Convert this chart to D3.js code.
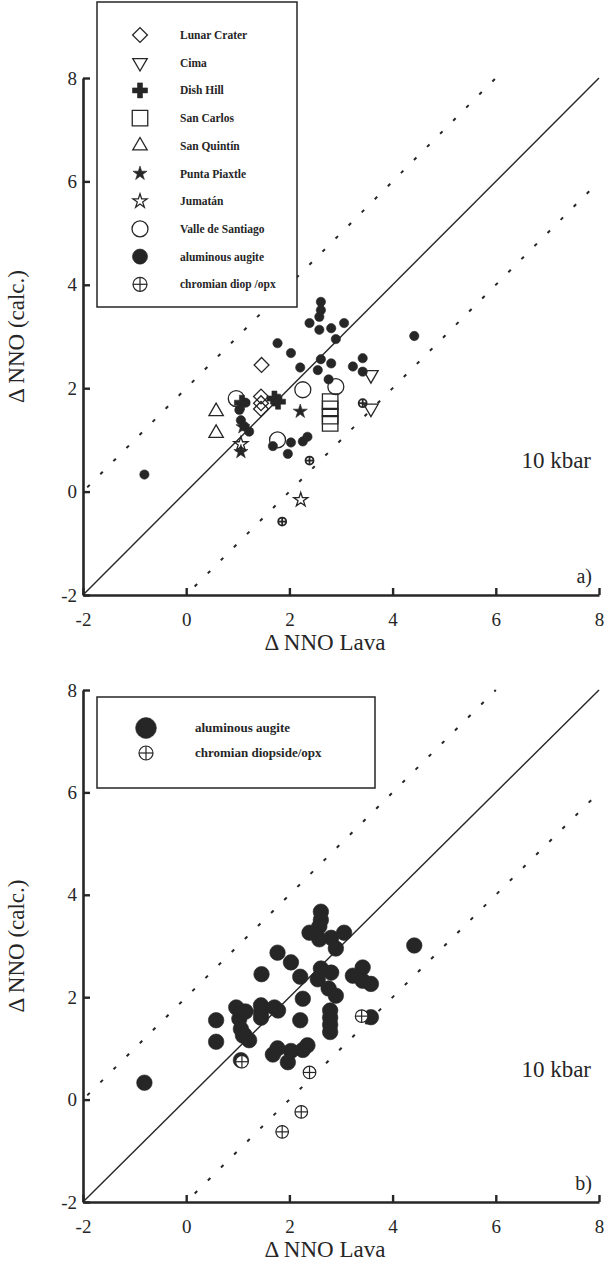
<!DOCTYPE html>
<html>
<head>
<meta charset="utf-8">
<script src="https://cdn.jsdelivr.net/npm/d3@7"></script>
<style>
    body { margin: 0; background: #fff; }
</style>
</head>
<body>
<svg id="chart" width="605" height="1263"></svg>
<script>

// ---- data (delta NNO lava, delta NNO calc.) ----
const lunarCrater   = [[1.46, 2.45], [1.45, 1.84], [1.45, 1.71], [1.45, 1.60]];
const cima          = [[3.58, 2.26], [3.58, 1.61]];
const dishHill      = [[1.71, 1.80], [1.78, 1.74], [1.08, 1.72]];
const sanCarlos     = [[2.79, 1.74], [2.79, 1.60], [2.79, 1.46], [2.79, 1.32]];
const sanQuintin    = [[0.58, 1.55], [0.58, 1.13]];
const puntaPiaxtle  = [[2.21, 1.55], [1.06, 0.77], [1.10, 1.25]];
const jumatan       = [[2.22, -0.16], [1.06, 0.92]];
const valleSantiago = [[0.97, 1.80], [2.26, 1.97], [2.90, 2.03], [1.77, 1.00]];
const augite = [
    [2.61, 3.67], [2.61, 3.51], [2.58, 3.38], [2.39, 3.26], [2.58, 3.13], [2.81, 3.16],
    [3.06, 3.26], [2.90, 2.95], [4.42, 3.01], [1.77, 2.87], [2.03, 2.68], [2.61, 2.56],
    [2.81, 2.48], [2.55, 2.35], [2.21, 2.40], [3.42, 2.58], [3.23, 2.42], [3.42, 2.32],
    [2.76, 2.17], [-0.81, 0.33], [2.03, 0.95], [2.26, 0.97], [2.35, 1.06], [1.68, 0.88],
    [1.97, 0.73], [1.03, 1.58], [1.06, 1.38], [1.13, 1.26], [1.22, 1.16], [1.15, 1.72]
];
const chromianA = [[3.42, 1.71], [1.86, -0.58], [2.39, 0.60]];
const chromianB = [[1.08, 0.74], [2.39, 0.53], [2.23, -0.24], [1.86, -0.63], [3.40, 1.63]];

const ticks = [-2, 0, 2, 4, 6, 8];
const legendNamesA = ["Lunar Crater", "Cima", "Dish Hill", "San Carlos", "San Quintín",
    "Punta Piaxtle", "Jumatán", "Valle de Santiago", "aluminous augite", "chromian diop /opx"];
const legendNamesB = ["aluminous augite", "chromian diopside/opx"];

const ink = "#262626";
const serif = "'Liberation Serif', 'Times New Roman', 'DejaVu Serif', serif";
const svg = d3.select("#chart").attr("font-family", serif);

// marker styles, keyed by symbol
const markers = {
    diamond:  { type: d3.symbolSquare,   size: 110, rotate: 45,  fill: false },
    triDown:  { type: d3.symbolTriangle, size: 90,  rotate: 180, fill: false },
    cross:    { type: d3.symbolCross,    size: 125, rotate: 0,   fill: true },
    square:   { type: d3.symbolSquare,   size: 240, rotate: 0,   fill: false },
    triUp:    { type: d3.symbolTriangle, size: 90,  rotate: 0,   fill: false },
    starFill: { type: d3.symbolStar,     size: 62,  rotate: 0,   fill: true },
    starOpen: { type: d3.symbolStar,     size: 62,  rotate: 0,   fill: false },
    ring:     { type: d3.symbolCircle,   size: 200, rotate: 0,   fill: false },
    dot:      { type: d3.symbolCircle,   size: 68,  rotate: 0,   fill: true }
};

function drawMarker(g, key, cx, cy, sizeOverride, lw) {
    if (key == "oplus") {
        let r = sizeOverride || 5;
        let w = lw || 1.2;
        let m = g.append("g").attr("transform", "translate(" + cx + "," + cy + ")");
        m.append("circle").attr("r", r).attr("fill", "#fff").attr("stroke", ink).attr("stroke-width", w);
        m.append("line").attr("x1", -r).attr("x2", r).attr("stroke", ink).attr("stroke-width", w);
        m.append("line").attr("y1", -r).attr("y2", r).attr("stroke", ink).attr("stroke-width", w);
        return;
    }
    let s = markers[key];
    g.append("path")
        .attr("d", d3.symbol().type(s.type).size(sizeOverride || s.size)())
        .attr("transform", "translate(" + cx + "," + cy + ") rotate(" + s.rotate + ")")
        .attr("fill", s.fill ? ink : "none")
        .attr("stroke", ink)
        .attr("stroke-width", s.fill ? 0.6 : 1.3);
}

/** draws axes, reference lines and labels of one panel; returns the scales */
function drawFrame(top, bottom, tag) {
    let x = d3.scaleLinear().domain([-2, 8]).range([83, 599]);
    let y = d3.scaleLinear().domain([-2, 8]).range([bottom, top]);
    let g = svg.append("g");

    // 1:1 line and +-2 log unit envelopes
    g.append("line")
        .attr("x1", x(-2)).attr("y1", y(-2)).attr("x2", x(8)).attr("y2", y(8))
        .attr("stroke", ink).attr("stroke-width", 1.4);
    g.append("line")
        .attr("x1", x(-2)).attr("y1", y(0)).attr("x2", x(6)).attr("y2", y(8))
        .attr("stroke", ink).attr("stroke-width", 2).attr("stroke-dasharray", "3.5,15")
        .attr("stroke-dashoffset", -6);
    g.append("line")
        .attr("x1", x(0)).attr("y1", y(-2)).attr("x2", x(8)).attr("y2", y(6))
        .attr("stroke", ink).attr("stroke-width", 2).attr("stroke-dasharray", "3.5,15")
        .attr("stroke-dashoffset", -12);

    let xAxis = d3.axisBottom(x).tickValues(ticks).tickFormat(function (d) { return "" + d; })
        .tickSize(-7).tickSizeOuter(0).tickPadding(18);
    let yAxis = d3.axisLeft(y).tickValues(ticks).tickFormat(function (d) { return "" + d; })
        .tickSize(-7).tickSizeOuter(0).tickPadding(6);

    let gx = g.append("g").attr("transform", "translate(0," + bottom + ")").call(xAxis);
    let gy = g.append("g").attr("transform", "translate(83,0)").call(yAxis);
    [gx, gy].forEach(function (a) {
        a.attr("font-family", serif).attr("font-size", 19);
        a.select(".domain").attr("stroke", ink).attr("stroke-width", 2.6);
        a.selectAll(".tick line").attr("stroke", ink).attr("stroke-width", 2.4);
        a.selectAll(".tick text").attr("fill", ink);
    });

    g.append("text")
        .attr("x", 325).attr("y", bottom + 55)
        .attr("text-anchor", "middle").attr("font-size", 23).attr("fill", ink)
        .text("Δ NNO Lava");
    g.append("text")
        .attr("transform", "translate(24," + ((top + bottom) / 2) + ") rotate(-90)")
        .attr("text-anchor", "middle").attr("font-size", 23).attr("fill", ink)
        .text("Δ NNO (calc.)");
    g.append("text")
        .attr("x", 591).attr("y", y(0.45))
        .attr("text-anchor", "end").attr("font-size", 23).attr("fill", ink)
        .text("10 kbar");
    g.append("text")
        .attr("x", 592).attr("y", bottom - 12)
        .attr("text-anchor", "end").attr("font-size", 20).attr("fill", ink)
        .text(tag);

    return { x: x, y: y, g: g };
}

// ---------- panel a ----------
let pa = drawFrame(78, 595, "a)");
let seriesA = [
    { data: augite, key: "dot" },
    { data: chromianA, key: "oplus", size: 4, lw: 1.8 },
    { data: sanCarlos, key: "square" },
    { data: lunarCrater, key: "diamond" },
    { data: cima, key: "triDown" },
    { data: sanQuintin, key: "triUp" },
    { data: valleSantiago, key: "ring" },
    { data: jumatan, key: "starOpen" },
    { data: puntaPiaxtle, key: "starFill" },
    { data: dishHill, key: "cross" }
];
seriesA.forEach(function (s) {
    s.data.forEach(function (d) {
        drawMarker(pa.g, s.key, pa.x(d[0]), pa.y(d[1]), s.size, s.lw);
    });
});

// legend a
let legA = svg.append("g");
legA.append("rect")
    .attr("x", 97).attr("y", 2).attr("width", 200).attr("height", 305)
    .attr("fill", "#fff").attr("stroke", ink).attr("stroke-width", 1.5);
let legKeysA = ["diamond", "triDown", "cross", "square", "triUp", "starFill", "starOpen", "ring", "dot", "oplus"];
legendNamesA.forEach(function (name, i) {
    let cy = 35 + i * 27.7;
    drawMarker(legA, legKeysA[i], 140, cy, legKeysA[i] == "dot" ? 180 : (legKeysA[i] == "oplus" ? 7 : null));
    legA.append("text")
        .attr("x", 180).attr("y", cy + 4)
        .attr("font-size", 11.5).attr("font-weight", "bold").attr("fill", ink)
        .text(name);
});

// ---------- panel b ----------
let pb = drawFrame(690, 1202, "b)");
let allSites = [].concat(augite, lunarCrater, cima, dishHill, sanCarlos, sanQuintin,
    puntaPiaxtle, valleSantiago);
allSites.forEach(function (d) {
    drawMarker(pb.g, "dot", pb.x(d[0]), pb.y(d[1]), 190);
});
chromianB.forEach(function (d) {
    drawMarker(pb.g, "oplus", pb.x(d[0]), pb.y(d[1]), 6.3);
});

// legend b
let legB = svg.append("g");
legB.append("rect")
    .attr("x", 97).attr("y", 697).attr("width", 278).attr("height", 91)
    .attr("fill", "#fff").attr("stroke", ink).attr("stroke-width", 1.5);
drawMarker(legB, "dot", 146, 728, 340);
drawMarker(legB, "oplus", 146, 753, 7);
legendNamesB.forEach(function (name, i) {
    legB.append("text")
        .attr("x", 195).attr("y", 732 + i * 25)
        .attr("font-size", 13).attr("font-weight", "bold").attr("fill", ink)
        .text(name);
});

</script>
</body>
</html>
